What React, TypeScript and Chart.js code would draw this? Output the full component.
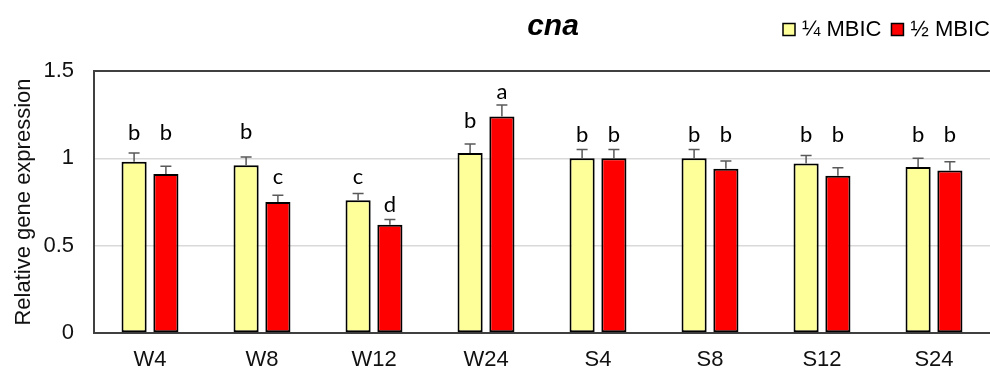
import React, { useEffect, useRef } from 'react';
import { Chart, registerables } from 'chart.js';

Chart.register(...registerables);

const chartTitle = 'cna';
const yAxisTitle = 'Relative gene expression';
const categories = ['W4', 'W8', 'W12', 'W24', 'S4', 'S8', 'S12', 'S24'];
const seriesLabels = ['\u00BC MBIC', '\u00BD MBIC'];
const quarterValues = [0.98, 0.96, 0.76, 1.03, 1.0, 1.0, 0.97, 0.95];
const halfValues = [0.91, 0.75, 0.62, 1.24, 1.0, 0.94, 0.9, 0.93];
const quarterErrors = [0.05, 0.047, 0.039, 0.052, 0.05, 0.05, 0.046, 0.05];
const halfErrors = [0.045, 0.038, 0.03, 0.065, 0.05, 0.045, 0.046, 0.05];
const quarterLetters = ['b', 'b', 'c', 'b', 'b', 'b', 'b', 'b'];
const halfLetters = ['b', 'c', 'd', 'a', 'b', 'b', 'b', 'b'];
const quarterLetterLevels = [1.105, 1.109, 0.853, 1.172, 1.095, 1.095, 1.095, 1.095];
const halfLetterLevels = [1.105, 0.853, 0.694, 1.338, 1.095, 1.095, 1.095, 1.095];
const yTicks = [0, 0.5, 1, 1.5];

const SANS = '"Liberation Sans", Arial, sans-serif';
const errorsBySeries = [quarterErrors, halfErrors];
const lettersBySeries = [quarterLetters, halfLetters];
const letterLevelsBySeries = [quarterLetterLevels, halfLetterLevels];

const errorBarPlugin = {
  id: 'errorBars',
  afterDatasetsDraw(chart: any) {
    const ctx = chart.ctx;
    const y = chart.scales.y;
    ctx.save();
    ctx.strokeStyle = '#595959';
    ctx.lineWidth = 1.5;
    chart.data.datasets.forEach((ds: any, di: number) => {
      const meta = chart.getDatasetMeta(di);
      meta.data.forEach((el: any, i: number) => {
        const v = ds.data[i];
        const top = y.getPixelForValue(v + errorsBySeries[di][i]);
        ctx.beginPath();
        ctx.moveTo(el.x, el.y);
        ctx.lineTo(el.x, top);
        ctx.moveTo(el.x - 5.5, top);
        ctx.lineTo(el.x + 5.5, top);
        ctx.stroke();
      });
    });
    ctx.restore();
  },
};

const letterPlugin = {
  id: 'letters',
  afterDatasetsDraw(chart: any) {
    const ctx = chart.ctx;
    const y = chart.scales.y;
    ctx.save();
    ctx.fillStyle = '#000';
    ctx.font = '22px Lato, "Open Sans", sans-serif';
    ctx.textAlign = 'center';
    ctx.textBaseline = 'alphabetic';
    chart.data.datasets.forEach((_ds: any, di: number) => {
      const meta = chart.getDatasetMeta(di);
      meta.data.forEach((el: any, i: number) => {
        ctx.fillText(lettersBySeries[di][i], el.x, y.getPixelForValue(letterLevelsBySeries[di][i]));
      });
    });
    ctx.restore();
  },
};

const headerPlugin = {
  id: 'header',
  afterDraw(chart: any) {
    const ctx = chart.ctx;
    ctx.save();
    // title
    ctx.fillStyle = '#000';
    ctx.font = `italic bold 30px ${SANS}`;
    ctx.textAlign = 'center';
    ctx.textBaseline = 'alphabetic';
    ctx.fillText(chartTitle, 553, 35);
    // legend
    ctx.font = `22px ${SANS}`;
    ctx.textAlign = 'left';
    let x = 783;
    chart.data.datasets.forEach((ds: any) => {
      ctx.fillStyle = ds.backgroundColor;
      ctx.fillRect(x, 23.5, 12, 12);
      ctx.strokeStyle = '#000';
      ctx.lineWidth = 1.5;
      ctx.strokeRect(x, 23.5, 12, 12);
      ctx.fillStyle = '#000';
      ctx.fillText(ds.label, x + 19, 36);
      x += 19 + ctx.measureText(ds.label).width + 10;
    });
    ctx.restore();
  },
};

export default function App() {
  const ref = useRef<HTMLCanvasElement | null>(null);
  useEffect(() => {
    if (!ref.current) return;
    const chart = new Chart(ref.current, {
      type: 'bar',
      data: {
        labels: categories,
        datasets: [
          {
            label: seriesLabels[0],
            data: quarterValues,
            backgroundColor: '#FFFF99',
            borderColor: '#000000',
            borderWidth: 2,
            borderSkipped: false,
            categoryPercentage: 0.568,
            barPercentage: 0.79,
          },
          {
            label: seriesLabels[1],
            data: halfValues,
            backgroundColor: '#FF0000',
            borderColor: '#000000',
            borderWidth: 2,
            borderSkipped: false,
            categoryPercentage: 0.568,
            barPercentage: 0.79,
          },
        ],
      },
      options: {
        responsive: false,
        animation: false,
        events: [],
        layout: { padding: { top: 71, left: 0, right: 0, bottom: 0 } },
        plugins: {
          legend: { display: false },
          title: { display: false },
          tooltip: { enabled: false },
        },
        scales: {
          x: {
            grid: { display: false, drawTicks: false },
            border: { display: true, color: '#404040', width: 2 },
            ticks: {
              color: '#111',
              font: { family: SANS, size: 22 },
              padding: 14,
              maxRotation: 0,
              autoSkip: false,
            },
            afterFit: (s: any) => {
              s.height = 37;
            },
          },
          y: {
            min: 0,
            max: 1.5,
            afterBuildTicks: (s: any) => {
              s.ticks = yTicks.map((v) => ({ value: v }));
            },
            grid: {
              drawTicks: false,
              color: (c: any) => (c.tick && c.tick.value === 1.5 ? '#404040' : '#d9d9d9'),
              lineWidth: (c: any) => (c.tick && c.tick.value === 1.5 ? 2 : 1.5),
            },
            border: { display: true, color: '#404040', width: 2 },
            ticks: {
              color: '#111',
              font: { family: SANS, size: 22 },
              padding: 20,
              callback: (v: any) => String(v),
            },
            title: {
              display: true,
              text: yAxisTitle,
              color: '#111',
              font: { family: SANS, size: 22 },
              padding: { top: 11, bottom: 0 },
            },
            afterFit: (s: any) => {
              s.width = 94;
            },
          },
        },
      },
      plugins: [errorBarPlugin, letterPlugin, headerPlugin],
    });
    return () => chart.destroy();
  }, []);
  return (
    <div style={{ position: 'fixed', left: 0, top: 0, width: 990, height: 370, background: '#fff' }}>
      <canvas ref={ref} width={990} height={370} />
    </div>
  );
}
